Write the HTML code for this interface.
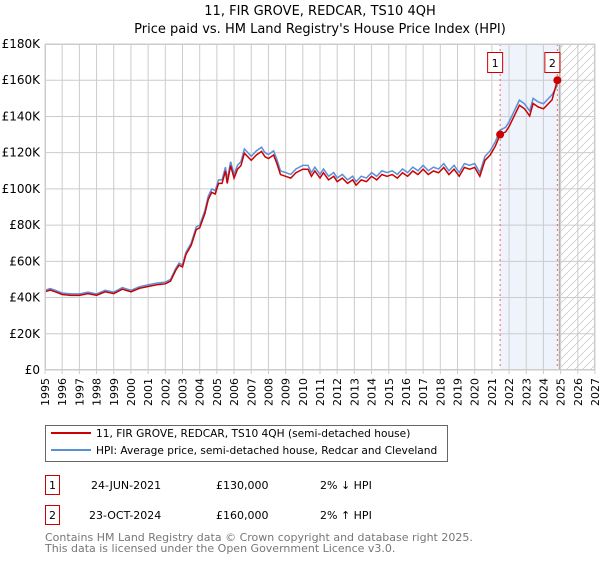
<!DOCTYPE html>
<html><head><meta charset="utf-8"><style>
body{margin:0;background:#fff;font-family:"DejaVu Sans","Liberation Sans",sans-serif;}
svg text{font-family:"DejaVu Sans","Liberation Sans",sans-serif;}
</style></head><body>
<svg id="c" width="600" height="560" xmlns="http://www.w3.org/2000/svg">
<defs><pattern id="h" width="8" height="8" patternUnits="userSpaceOnUse"><path d="M0,8 L8,0" stroke="#ccc" stroke-width="0.8"/></pattern></defs>
<text x="320" y="15" text-anchor="middle" font-size="13">11, FIR GROVE, REDCAR, TS10 4QH</text>
<text x="320" y="33" text-anchor="middle" font-size="13">Price paid vs. HM Land Registry's House Price Index (HPI)</text>
<g id="plot"></g>
<g>
<rect x="45.5" y="425.5" width="402" height="36" fill="#fff" stroke="#666"/>
<line x1="51" y1="433" x2="91" y2="433" stroke="#cc0000" stroke-width="2"/>
<text x="96" y="437" font-size="10.6">11, FIR GROVE, REDCAR, TS10 4QH (semi-detached house)</text>
<line x1="51" y1="450" x2="91" y2="450" stroke="#5b8fd6" stroke-width="2"/>
<text x="96" y="454" font-size="10.6">HPI: Average price, semi-detached house, Redcar and Cleveland</text>
</g>
<g font-size="11">
<rect x="45.5" y="475.5" width="14" height="19" fill="#fff" stroke="#cc0000"/>
<text x="52.5" y="489" text-anchor="middle">1</text>
<text x="91" y="489">24-JUN-2021</text><text x="216" y="489">£130,000</text><text x="320" y="489">2% ↓ HPI</text>
<rect x="45.5" y="505.5" width="14" height="19" fill="#fff" stroke="#cc0000"/>
<text x="52.5" y="519" text-anchor="middle">2</text>
<text x="89" y="519">23-OCT-2024</text><text x="216" y="519">£160,000</text><text x="320" y="519">2% ↑ HPI</text>
</g>
<text x="45" y="541" font-size="11" fill="#777">Contains HM Land Registry data © Crown copyright and database right 2025.</text>
<text x="45" y="552" font-size="11" fill="#777">This data is licensed under the Open Government Licence v3.0.</text>
</svg>
<script>
const hpiT=[1995.0,1995.3,1995.6,1996.0,1996.5,1997.0,1997.5,1998.0,1998.5,1999.0,1999.5,2000.0,2000.5,2001.0,2001.5,2002.0,2002.3,2002.6,2002.8,2003.0,2003.2,2003.5,2003.8,2004.0,2004.3,2004.5,2004.7,2004.9,2005.1,2005.3,2005.5,2005.6,2005.8,2006.0,2006.2,2006.4,2006.6,2006.8,2007.0,2007.3,2007.6,2007.8,2008.0,2008.3,2008.5,2008.7,2009.0,2009.3,2009.6,2010.0,2010.3,2010.5,2010.7,2011.0,2011.2,2011.5,2011.8,2012.0,2012.3,2012.6,2012.9,2013.1,2013.4,2013.7,2014.0,2014.3,2014.6,2014.9,2015.2,2015.5,2015.8,2016.1,2016.4,2016.7,2017.0,2017.3,2017.6,2017.9,2018.2,2018.5,2018.8,2019.1,2019.4,2019.7,2020.0,2020.3,2020.6,2020.9,2021.2,2021.48,2021.8,2022.0,2022.3,2022.6,2022.9,2023.2,2023.4,2023.7,2024.0,2024.2,2024.5,2024.81];
const hpiV=[44,45,44,42.5,42,42,43,42,44,43,45.5,44,46,47,48,48.5,50,56,59,58,65,70,79,80,88,96,100,99,105,105,112,105,115,108,113,115,122,120,118,121,123,120,119,121,116,110,109,108,111,113,113,109,112,108,111,107,109,106,108,105,107,104,107,106,109,107,110,109,110,108,111,109,112,110,113,110,112,111,114,110,113,109,114,113,114,109,118,121,126,132.5,134,137,143,149,147,143,150,148,147,149,152,157];
const saleT=[2021.48,2024.81];
const saleV=[130,160];
const yTicks=[0,20,40,60,80,100,120,140,160,180];
const xTicks=[1995,1996,1997,1998,1999,2000,2001,2002,2003,2004,2005,2006,2007,2008,2009,2010,2011,2012,2013,2014,2015,2016,2017,2018,2019,2020,2021,2022,2023,2024,2025,2026,2027];
const X0=45,X1=595,Y0=370,Y1=44;
const sx=t=>X0+(t-1995)/(2027-1995)*(X1-X0);
const sy=v=>Y0-v/180*(Y0-Y1);
const g=document.getElementById('plot');
const NS='http://www.w3.org/2000/svg';
function mk(tag,a){const e=document.createElementNS(NS,tag);for(const k in a)e.setAttribute(k,a[k]);g.appendChild(e);return e;}
let e=mk('rect',{x:X0,y:Y1,width:X1-X0,height:Y0-Y1,fill:'#fff'});


e=mk('rect',{x:sx(saleT[0]),y:Y1,width:sx(saleT[1])-sx(saleT[0]),height:Y0-Y1,fill:'#eef3fc'});


const hx=sx(2024.92);
e=mk('rect',{x:hx,y:Y1,width:X1-hx,height:Y0-Y1,fill:'url(#h)'});


xTicks.forEach(t=>{const l=mk('line',{x1:sx(t),x2:sx(t),y1:Y1,y2:Y0+4,stroke:'#ccc','stroke-width':1});


const tx=mk('text',{x:0,y:0,'font-size':11,transform:`translate(${sx(t)+4},${Y0+36}) rotate(-90)`});tx.textContent=t;

});
yTicks.forEach(v=>{const l=mk('line',{x1:X0,x2:X1,y1:sy(v),y2:sy(v),stroke:'#ccc','stroke-width':1});


const tx=mk('text',{x:40,y:sy(v)+4,'font-size':12,'text-anchor':'end'});tx.textContent=v===0?'£0':'£'+v+'K';

});
e=mk('line',{x1:hx,x2:hx,y1:Y1,y2:Y0,stroke:'#999','stroke-width':1});


saleT.forEach((t,i)=>{const l=mk('line',{x1:sx(t),x2:sx(t),y1:Y1,y2:Y0,stroke:'#e66','stroke-width':1,'stroke-dasharray':'2,3'});

});
e=mk('polyline',{points:hpiT.map((t,i)=>sx(t)+','+sy(hpiV[i])).join(' '),fill:'none',stroke:'#5b8fd6','stroke-width':1.5});


const f1=saleV[0]/hpiV[hpiT.indexOf(saleT[0])];
const f2=saleV[1]/hpiV[hpiT.indexOf(saleT[1])];
const pp=hpiT.map((t,i)=>{const f=t<saleT[1]?f1:f2;return sx(t)+','+sy(hpiV[i]*f);});
e=mk('polyline',{points:pp.join(' '),fill:'none',stroke:'#cc0000','stroke-width':1.5});


saleT.forEach((t,i)=>{const c=mk('circle',{cx:sx(t),cy:sy(saleV[i]),r:4,fill:'#cc0000'});


const r=mk('rect',{x:sx(t)-12.5,y:52.5,width:15,height:20,fill:'#fff',stroke:'#cc0000'});


const tx=mk('text',{x:sx(t)-5,y:67,'font-size':11,'text-anchor':'middle'});tx.textContent=i+1;

});
e=mk('rect',{x:X0+0.5,y:Y1+0.5,width:X1-X0-1,height:Y0-Y1-1,fill:'none',stroke:'#ccc'});


</script>
</body></html>
